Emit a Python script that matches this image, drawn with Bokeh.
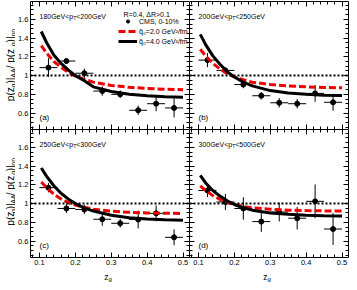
import numpy as np
from bokeh.plotting import figure
from bokeh.models import (Label, Legend, LegendItem, LinearAxis, Range1d,
                          SingleIntervalTicker, Span, CustomJSTickFormatter)
from bokeh.layouts import column, row
from bokeh.embed import file_html
from bokeh.resources import INLINE

FONT = "Liberation Sans"

# ---------------- data ----------------
zg = [0.125, 0.175, 0.225, 0.275, 0.325, 0.375, 0.425, 0.475]
zg_binhalf = [0.025] * 8

cms_a = [1.085, 1.155, 1.025, 0.835, 0.800, 0.630, 0.700, 0.655]
err_a = [0.100, 0.030, 0.050, 0.050, 0.040, 0.050, 0.080, 0.100]
cms_b = [1.165, 1.055, 0.905, 0.785, 0.710, 0.700, 0.810, 0.715]
err_b = [0.075, 0.030, 0.040, 0.040, 0.050, 0.050, 0.090, 0.090]
cms_c = [1.170, 0.948, 0.937, 0.833, 0.790, 0.830, 0.896, 0.640]
err_c = [0.050, 0.050, 0.050, 0.070, 0.045, 0.095, 0.085, 0.085]
cms_d = [1.140, 1.017, 0.948, 0.808, 0.910, 0.844, 1.024, 0.729]
err_d = [0.070, 0.085, 0.120, 0.110, 0.100, 0.120, 0.180, 0.170]

zc = [0.105, 0.12, 0.14, 0.16, 0.18, 0.20, 0.225, 0.25, 0.30, 0.35, 0.40, 0.45, 0.50]
q4_a = [1.47, 1.35, 1.22, 1.13, 1.06, 1.00, 0.945, 0.88, 0.83, 0.80, 0.785, 0.775, 0.77]
q2_a = [1.32, 1.24, 1.15, 1.09, 1.035, 0.995, 0.96, 0.93, 0.895, 0.875, 0.862, 0.855, 0.85]
q4_b = [1.44, 1.33, 1.21, 1.12, 1.04, 0.985, 0.93, 0.89, 0.84, 0.815, 0.80, 0.79, 0.788]
q2_b = [1.28, 1.21, 1.13, 1.07, 1.02, 0.985, 0.955, 0.93, 0.905, 0.89, 0.88, 0.873, 0.87]
q4_c = [1.38, 1.29, 1.19, 1.11, 1.05, 1.00, 0.955, 0.92, 0.875, 0.85, 0.835, 0.827, 0.823]
q2_c = [1.23, 1.17, 1.10, 1.05, 1.01, 0.985, 0.96, 0.94, 0.92, 0.907, 0.90, 0.897, 0.895]
q4_d = [1.30, 1.22, 1.14, 1.08, 1.03, 0.99, 0.955, 0.93, 0.90, 0.885, 0.875, 0.87, 0.868]
q2_d = [1.19, 1.14, 1.085, 1.045, 1.01, 0.99, 0.97, 0.955, 0.94, 0.93, 0.925, 0.922, 0.92]

pt_bins = [("180", "200"), ("200", "250"), ("250", "300"), ("300", "500")]
panel_tags = ["(a)", "(b)", "(c)", "(d)"]
legend_labels = ["CMS, 0-10%", "q\u0302\u2080=2.0 GeV\u00b2/fm", "q\u0302\u2080=4.0 GeV\u00b2/fm"]

# ---------------- helpers ----------------
CW = {' ': .278, '(': .333, ')': .333, '/': .278, '|': .26, 'p': .556, 'z': .5,
      'g': .556, 'A': .667, 'T': .611, 'G': .778, 'e': .556, 'V': .667, '<': .584}
FH = 128  # frame height


def tw(t, s):
    return sum(CW.get(c, .556) for c in t) * s


def rich(p, pieces, x0, y0, rotated=False, center=False, units="screen"):
    total = sum(tw(t, s) for t, s, _ in pieces)
    pos = (x0 if not rotated else y0) - (total / 2 if center else 0)
    for t, s, sh in pieces:
        if rotated:
            x, y, ang = x0 + (-sh), pos, np.pi / 2
        else:
            x, y, ang = pos, y0 + sh, 0
        p.add_layout(Label(x=x, y=y, x_units=units, y_units=units, text=t,
                           angle=ang, text_font=FONT, text_font_size=f"{s}px",
                           text_baseline="alphabetic", text_align="left",
                           text_color="black"))
        pos += tw(t, s)


def style_axis(ax, show):
    ax.axis_line_color = "black"
    ax.axis_line_width = 1
    ax.major_tick_in = 5
    ax.major_tick_out = 0
    ax.minor_tick_in = 3
    ax.minor_tick_out = 0
    ax.major_tick_line_color = "black"
    ax.minor_tick_line_color = "black"
    if show:
        ax.major_label_text_font = FONT
        ax.major_label_standoff = 2
        ax.major_label_text_color = "black"
    else:
        ax.formatter = CustomJSTickFormatter(code="return ''")
        ax.major_label_standoff = 0
        ax.major_label_text_font_size = "1px"


def strip(w, h):
    s = figure(width=w, height=h, x_range=Range1d(0, w), y_range=Range1d(0, h),
               output_backend="svg", toolbar_location=None,
               x_axis_location=None, y_axis_location=None, min_border=0,
               outline_line_color=None, background_fill_color="white",
               border_fill_color="white")
    s.xgrid.visible = False
    s.ygrid.visible = False
    return s


def make_panel(i, cms, err, q2, q4):
    left = i in (0, 2)
    top = i in (0, 1)
    p = figure(frame_width=159, frame_height=FH,
               x_range=Range1d(0.075, 0.518), y_range=Range1d(0.425, 1.79),
               output_backend="svg", toolbar_location=None,
               x_axis_location=None, y_axis_location=None,
               min_border_left=13 if left else 0, min_border_right=0 if left else 3,
               min_border_top=1 if top else 0, min_border_bottom=0 if top else 11,
               background_fill_color="white", border_fill_color="white",
               outline_line_color=None)
    p.xgrid.visible = False
    p.ygrid.visible = False
    for side in ("below", "above"):
        ax = LinearAxis(ticker=SingleIntervalTicker(interval=0.1, num_minor_ticks=5))
        style_axis(ax, side == "below" and not top)
        if side == "below" and not top:
            ax.major_label_text_font_size = "7.5px"
        p.add_layout(ax, side)
    for side in ("left", "right"):
        ax = LinearAxis(ticker=SingleIntervalTicker(interval=0.2, num_minor_ticks=4))
        style_axis(ax, side == "left" and left)
        if side == "left" and left:
            ax.major_label_text_font_size = "7.5px"
        p.add_layout(ax, side)

    p.add_layout(Span(location=1.0, dimension="width", line_color="black",
                      line_width=2, line_dash="2 2"))

    x = np.array(zg)
    xe = np.array(zg_binhalf)
    y = np.array(cms)
    ye = np.array(err)
    p.segment(x0=x - xe, x1=x + xe, y0=y, y1=y, line_color="black", line_width=1)
    p.segment(x0=x, x1=x, y0=y - ye, y1=y + ye, line_color="black", line_width=1)
    sc = p.scatter(x=zg, y=cms, marker="circle", size=5, color="black")

    red = p.line(x=zc, y=q2, line_color="#ee0000", line_width=3, line_dash="7 3")
    blk = p.line(x=zc, y=q4, line_color="black", line_width=3)

    lo, hi = pt_bins[i]
    rich(p, [(lo + "GeV<p", 7, 0), ("T", 5, -2), ("<" + hi + "GeV", 7, 0)], 9, FH - 14.5)
    p.add_layout(Label(x=9, y=12, x_units="screen", y_units="screen", text=panel_tags[i],
                       text_font=FONT, text_font_size="8px", text_baseline="middle",
                       text_color="black"))

    if i == 0:
        p.add_layout(Label(x=93, y=FH - 12.5, x_units="screen", y_units="screen",
                           text="R=0.4, \u0394R>0.1", text_font=FONT, text_font_size="7px",
                           text_baseline="alphabetic", text_color="black"))
        leg = Legend(items=[LegendItem(label=legend_labels[0], renderers=[sc]),
                            LegendItem(label=legend_labels[1], renderers=[red]),
                            LegendItem(label=legend_labels[2], renderers=[blk])],
                     location=(88, FH - 44), glyph_width=19, glyph_height=8, label_height=8,
                     label_standoff=2, spacing=2, padding=0, margin=0,
                     border_line_alpha=0, background_fill_alpha=0,
                     label_text_font=FONT, label_text_font_size="7px",
                     label_text_color="black")
        p.add_layout(leg)
    return p


panels = [make_panel(0, cms_a, err_a, q2_a, q4_a),
          make_panel(1, cms_b, err_b, q2_b, q4_b),
          make_panel(2, cms_c, err_c, q2_c, q4_c),
          make_panel(3, cms_d, err_d, q2_d, q4_d)]

ytitle = [("p(z", 10, 0), ("g", 7, -2.5), (")|", 10, 0), ("AA", 7, -2.5),
          (" / p(z", 10, 0), ("g", 7, -2.5), (")|", 10, 0), ("pp", 7, -2.5)]

ta = strip(15, FH + 1)
rich(ta, ytitle, 10, 65, rotated=True, center=True, units="data")
tc = strip(15, FH + 11)
rich(tc, ytitle, 10, 71, rotated=True, center=True, units="data")

zs = strip(349, 14)
for cx in (107.5, 266.5):
    rich(zs, [("z", 8.5, 0), ("g", 6, -1.5)], cx, 5.5, center=True, units="data")

layout = column(row(ta, panels[0], panels[1]), row(tc, panels[2], panels[3]), zs)

open("out.html", "w").write(file_html(layout, INLINE))
